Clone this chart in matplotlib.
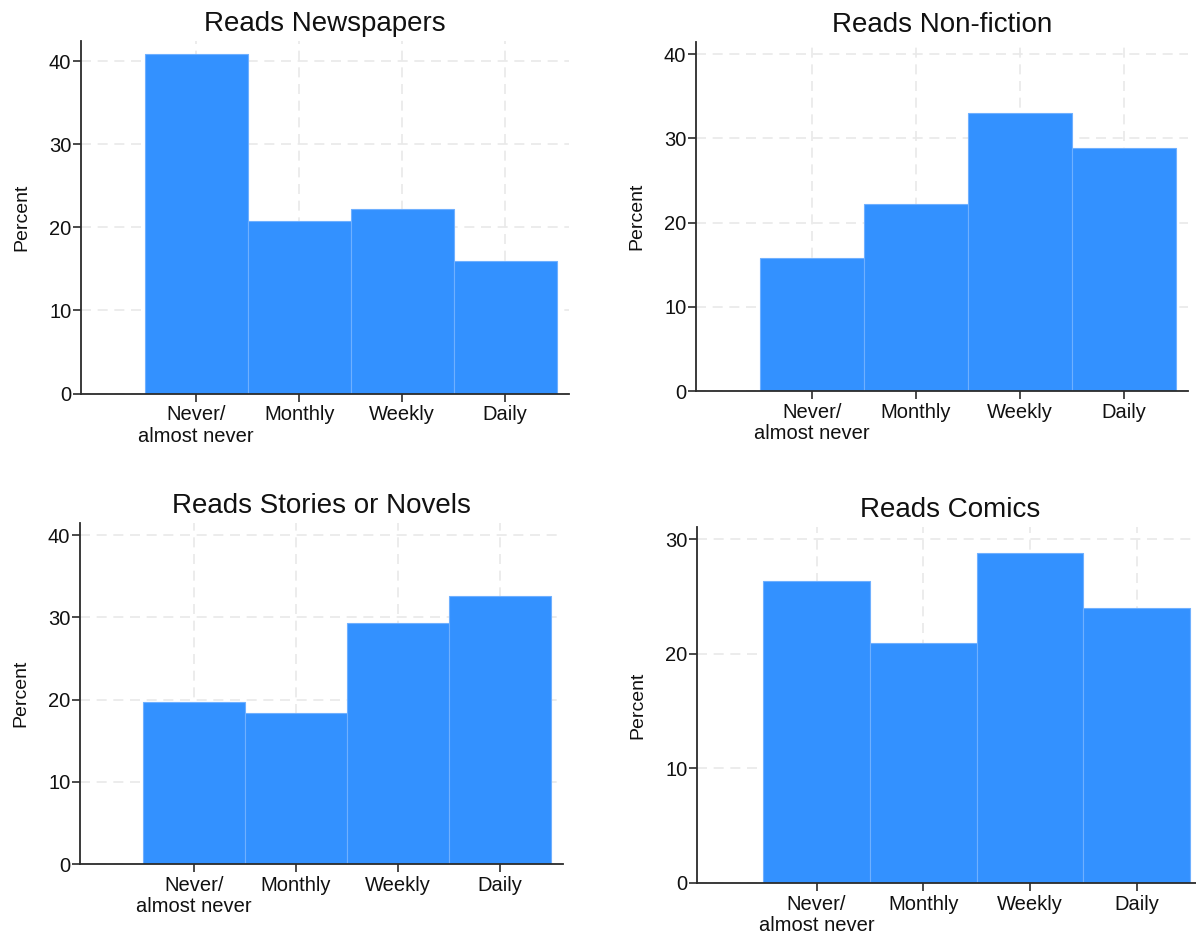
import matplotlib
matplotlib.use("Agg")
import matplotlib.pyplot as plt

plt.rcParams['font.family'] = ['Liberation Sans', 'DejaVu Sans']

categories = ["Never/\nalmost never", "Monthly", "Weekly", "Daily"]
positions = [1, 2, 3, 4]

titles = ["Reads Newspapers", "Reads Non-fiction", "Reads Stories or Novels", "Reads Comics"]
newspapers = [40.9, 20.8, 22.2, 15.9]
nonfiction = [15.8, 22.2, 33.0, 28.9]
stories = [19.7, 18.4, 29.3, 32.6]
comics = [26.3, 20.9, 28.8, 24.0]
series = [newspapers, nonfiction, stories, comics]
yticks_list = [[0, 10, 20, 30, 40], [0, 10, 20, 30, 40], [0, 10, 20, 30, 40], [0, 10, 20, 30]]
ytops = [42.45, 41.45, 41.5, 31.05]

W, H = 1196, 936
# pixel boxes: left, right, top, bottom
boxes = [(81, 569, 41, 393.5), (696, 1188, 42, 391), (80, 563, 523, 864), (697, 1203, 527, 883)]

fig = plt.figure(figsize=(W / 100, H / 100), dpi=100)
bar_color = '#3391FF'
edge_color = '#6FB0FF'
spine_color = '#2b2b2b'
grid_color = '#e9e9e9'

for i in range(4):
    l, r, t, b = boxes[i]
    ax = fig.add_axes([l / W, 1 - b / H, (r - l) / W, (b - t) / H])
    ax.bar(positions, series[i], width=1.0, color=bar_color, edgecolor=edge_color,
           linewidth=0.8, zorder=2)
    ax.set_xlim(-0.12, 4.62)
    ax.set_ylim(0, ytops[i])
    ax.set_xticks(positions)
    ax.set_xticklabels(categories, fontsize=14.5, linespacing=1.15)
    ax.set_yticks(yticks_list[i])
    ax.tick_params(axis='y', labelsize=14.5, length=5.5, width=1.2, color=spine_color,
                   labelcolor='#111111', pad=1.5)
    ax.tick_params(axis='x', labelsize=14.5, length=5.5, width=1.2, color=spine_color,
                   labelcolor='#111111', pad=3)
    ax.set_ylabel("Percent", fontsize=14, labelpad=13, color='#111111')
    ax.set_title(titles[i], fontsize=20, pad=7, color='#111111')
    for s in ['top', 'right']:
        ax.spines[s].set_visible(False)
    for s in ['left', 'bottom']:
        ax.spines[s].set_color(spine_color)
        ax.spines[s].set_linewidth(1.3)
    ax.grid(True, color=grid_color, linestyle=(0, (6, 4)), linewidth=1.2, zorder=0)
    ax.set_axisbelow(True)

fig.savefig("out.png", dpi=100, facecolor='white')
